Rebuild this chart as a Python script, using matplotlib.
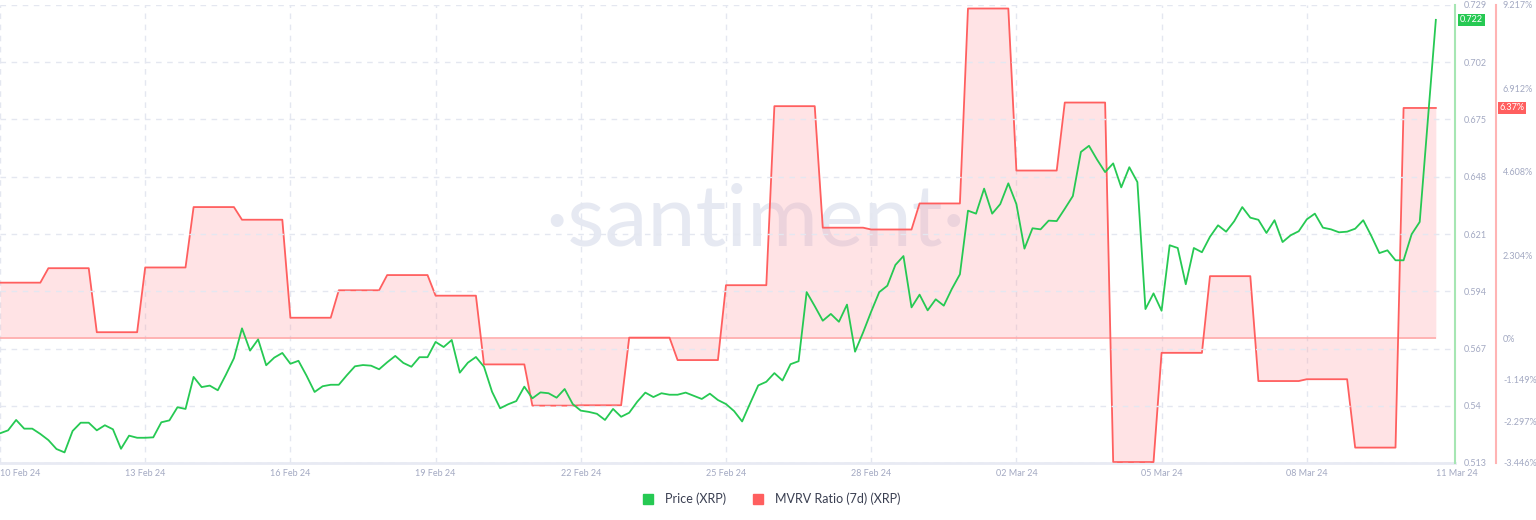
import matplotlib
matplotlib.use('Agg')
import matplotlib.pyplot as plt
import matplotlib.transforms as mtrans
from matplotlib.lines import Line2D
import numpy as np
import pandas as pd

plt.rcParams['font.family'] = ['Lato', 'DejaVu Sans']

# XRP price, 4h steps starting 10 Feb 2024 00:00
price = [
    0.5270, 0.5284, 0.5333, 0.5292, 0.5292, 0.5267, 0.5238, 0.5196, 0.5180, 0.5281,
    0.5320, 0.5320, 0.5284, 0.5308, 0.5289, 0.5197, 0.5259, 0.5249, 0.5249, 0.5251,
    0.5322, 0.5331, 0.5393, 0.5385, 0.5536, 0.5488, 0.5495, 0.5473, 0.5546, 0.5624,
    0.5765, 0.5660, 0.5713, 0.5591, 0.5627, 0.5649, 0.5598, 0.5612, 0.5542, 0.5465,
    0.5492, 0.5499, 0.5499, 0.5544, 0.5586, 0.5592, 0.5589, 0.5572, 0.5605, 0.5635,
    0.5602, 0.5584, 0.5629, 0.5629, 0.5701, 0.5677, 0.5710, 0.5556, 0.5603, 0.5630,
    0.5584, 0.5466, 0.5388, 0.5407, 0.5422, 0.5490, 0.5435, 0.5463, 0.5459, 0.5438,
    0.5479, 0.5408, 0.5377, 0.5371, 0.5362, 0.5333, 0.5385, 0.5348, 0.5367, 0.5419,
    0.5462, 0.5441, 0.5459, 0.5452, 0.5452, 0.5462, 0.5447, 0.5432, 0.5457, 0.5427,
    0.5408, 0.5375, 0.5326, 0.5412, 0.5496, 0.5513, 0.5554, 0.5519, 0.5596, 0.5610,
    0.5936, 0.5870, 0.5801, 0.5833, 0.5796, 0.5877, 0.5655, 0.5746, 0.5844, 0.5936,
    0.5966, 0.6064, 0.6106, 0.5864, 0.5924, 0.5850, 0.5902, 0.5872, 0.5951, 0.6020,
    0.6320, 0.6306, 0.6424, 0.6306, 0.6351, 0.6449, 0.6351, 0.6141, 0.6237, 0.6232,
    0.6273, 0.6271, 0.6329, 0.6389, 0.6597, 0.6626, 0.6561, 0.6502, 0.6543, 0.6430,
    0.6525, 0.6455, 0.5856, 0.5930, 0.5848, 0.6157, 0.6144, 0.5973, 0.6144, 0.6124,
    0.6197, 0.6251, 0.6221, 0.6270, 0.6337, 0.6287, 0.6277, 0.6215, 0.6275, 0.6172,
    0.6204, 0.6223, 0.6279, 0.6306, 0.6240, 0.6232, 0.6218, 0.6221, 0.6235, 0.6275,
    0.6201, 0.6120, 0.6133, 0.6086, 0.6086, 0.6209, 0.6267, 0.6741, 0.7220,
]

# MVRV ratio (7d), one value per day, in %
mvrv_daily = [
    1.54, 1.94, 0.17, 1.96, 3.63, 3.28, 0.57, 1.33, 1.75, 1.18,
    -0.72, -1.86, -1.85, 0.02, -0.60, 1.47, 6.42, 3.06, 3.01, 3.73,
    9.12, 4.64, 6.52, -3.42, -0.40, 1.72, -1.18, -1.13, -3.02, 6.37,
]

price_ticks = [0.513, 0.54, 0.567, 0.594, 0.621, 0.648, 0.675, 0.702, 0.729]
mvrv_ticks = [-3.446, -2.297, -1.149, 0, 2.304, 4.608, 6.912, 9.217]
date_ticks = pd.date_range('2024-02-10', '2024-03-08', freq='3D')
end_label = '11 Mar 24'

times = pd.date_range('2024-02-10', periods=len(price), freq='4h')
mvrv = np.repeat(mvrv_daily, 6)[:len(price)]

GREEN = '#26c953'
RED = '#ff5f5f'
TXT = '#a3a9c2'
GRID = '#e4e7f0'

fig = plt.figure(figsize=(15.36, 5.2), dpi=100)
ax_m = fig.add_axes([0, 57 / 520, 1455 / 1536, 458 / 520])
ax_m.patch.set_alpha(0)

# watermark
ax_m.text(0.519, 0.527, '\u00b7santiment\u00b7', transform=ax_m.transAxes,
          fontsize=62, color='#e6e9f2', ha='center', va='center', zorder=0)

ax_m.fill_between(times, mvrv, 0, color='#ff9aa2', alpha=0.27, lw=0, zorder=1)
ax_m.hlines(0, times[0], times[-1], color='#ffabab', lw=1.2, zorder=2)
ax_m.plot(times, mvrv, color=RED, lw=1.3, zorder=3)
ax_m.set_ylim(mvrv_ticks[0], mvrv_ticks[-1])
ax_m.set_xlim(times[0], times[-1] + pd.Timedelta(hours=9.5))

ax_m.set_xticks(date_ticks)
ax_m.set_xticklabels([d.strftime('%d %b %y') for d in date_ticks])
ax_m.set_xticks([times[-1]], minor=True)
ax_m.set_xticklabels([end_label], minor=True)
ax_m.tick_params(axis='x', which='both', length=0, pad=4, labelsize=6.5, labelcolor=TXT)
ax_m.get_xticklabels()[0].set_horizontalalignment('left')
ax_m.get_xticklabels(minor=True)[0].set_horizontalalignment('left')
ax_m.grid(axis='x', which='major', color=GRID, ls=(0, (4, 4)), lw=1)
ax_m.set_axisbelow(True)

# price on the inner right axis
ax_p = ax_m.twinx()
ax_p.plot(times, price, color=GREEN, lw=1.3, zorder=3)
ax_p.set_ylim(price_ticks[0], price_ticks[-1])
ax_p.set_yticks(price_ticks)
ax_p.set_yticklabels([f'{v:.3f}'.rstrip('0') for v in price_ticks])
ax_p.grid(axis='y', color=GRID, ls=(0, (4, 4)), lw=1)
ax_p.set_axisbelow(True)
for s in ['left', 'top', 'bottom']:
    ax_p.spines[s].set_visible(False)
ax_p.spines['right'].set_color('#a6e6b3')
ax_p.spines['right'].set_linewidth(1.5)
ax_p.tick_params(axis='y', length=0, pad=6, labelsize=6.5, labelcolor=TXT)

# mvrv on the outer right axis (twinx moved it left, put it back)
ax_m.yaxis.tick_right()
ax_m.yaxis.set_label_position('right')
ax_m.set_yticks(mvrv_ticks)
ax_m.set_yticklabels(['0%' if v == 0 else f'{v:.3f}%' for v in mvrv_ticks])
ax_m.spines['right'].set_visible(True)
ax_m.spines['right'].set_position(('axes', 1496 / 1455))
ax_m.spines['right'].set_color('#ffb4b4')
ax_m.spines['right'].set_linewidth(1.5)
ax_m.spines['left'].set_visible(False)
ax_m.spines['top'].set_visible(False)
ax_m.spines['bottom'].set_color('#e8eaf3')
ax_m.spines['bottom'].set_linewidth(2)
ax_m.tick_params(axis='y', length=0, pad=5, labelsize=6.5, labelcolor=TXT)

# last value badges
tp = mtrans.blended_transform_factory(ax_p.transAxes, ax_p.transData)
ax_p.text(1.0035, price[-1], f'{price[-1]:.3f}', transform=tp, ha='left', va='center',
          fontsize=6.5, color='white', clip_on=False,
          bbox=dict(boxstyle='square,pad=0.2', fc=GREEN, ec='none'))
tm = mtrans.blended_transform_factory(ax_m.transAxes, ax_m.transData)
ax_m.text(1.0305, mvrv[-1], f'{mvrv[-1]:.2f}%', transform=tm, ha='left', va='center',
          fontsize=6.5, color='white', clip_on=False,
          bbox=dict(boxstyle='square,pad=0.2', fc=RED, ec='none'))

handles = [
    Line2D([], [], marker='s', ls='none', color=GREEN, markersize=7, label='Price (XRP)'),
    Line2D([], [], marker='s', ls='none', color=RED, markersize=7, label='MVRV Ratio (7d) (XRP)'),
]
fig.legend(handles=handles, loc='center', bbox_to_anchor=(0.5, 21 / 520), ncol=2,
           frameon=False, fontsize=9, handletextpad=0.3, columnspacing=1.6,
           labelcolor='#3a3f51')

fig.savefig('out.png', dpi=100)
